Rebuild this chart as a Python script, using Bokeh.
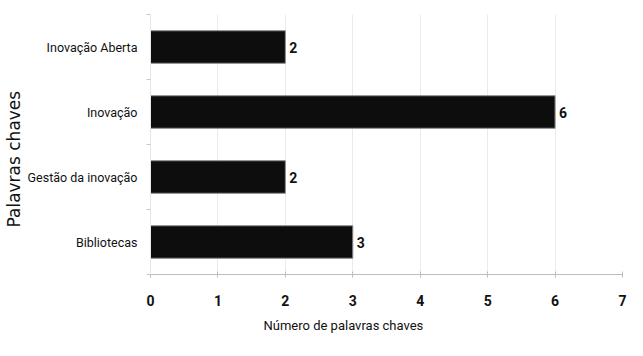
from bokeh.plotting import figure
from bokeh.models import FixedTicker, ColumnDataSource, Title
from bokeh.core.properties import value
from bokeh.embed import file_html
from bokeh.resources import INLINE

categories = ["Bibliotecas", "Gestão da inovação", "Inovação", "Inovação Aberta"]
counts = [3, 2, 6, 2]
x_ticks = [0, 1, 2, 3, 4, 5, 6, 7]
x_title = "Número de palavras chaves"
y_title = "Palavras chaves"

FONT = "Roboto"

positions = list(range(1, len(categories) + 1))
src = ColumnDataSource(dict(y=positions, v=counts, lab=[str(c) for c in counts]))

p = figure(width=627, height=340, output_backend="svg", toolbar_location=None,
           x_range=(0, 7), y_range=(0.5, len(categories) + 0.5),
           min_border_left=148, min_border_right=5, min_border_top=14, min_border_bottom=0)
p.outline_line_color = None

p.hbar(y="y", right="v", left=0, height=0.5, source=src,
       fill_color="#0d0d0d", line_color="#8a8a8a", line_width=1)
p.text(x="v", y="y", text="lab", source=src, x_offset=4,
       text_align="left", text_baseline="middle", text_font=value(FONT),
       text_font_size="14px", text_font_style="bold", text_color="#111111")

# x axis
p.xaxis.ticker = FixedTicker(ticks=x_ticks)
p.xaxis.axis_line_color = "#bdbdbd"
p.xaxis.major_tick_line_color = "#bdbdbd"
p.xaxis.major_tick_in = 3
p.xaxis.major_tick_out = 3
p.xaxis.minor_tick_line_color = None
p.xaxis.major_label_text_font = FONT
p.xaxis.major_label_text_font_size = "14px"
p.xaxis.major_label_text_font_style = "bold"
p.xaxis.major_label_text_color = "#111111"
p.xaxis.major_label_standoff = 17

p.add_layout(Title(text=x_title, align="left", offset=113, text_font=FONT,
                   text_font_size="13px", text_font_style="normal",
                   text_color="#111111", standoff=15), "below")

# y axis
p.yaxis.ticker = FixedTicker(ticks=positions,
                             minor_ticks=[i + 0.5 for i in range(len(categories) + 1)])
p.yaxis.major_label_overrides = {pos: c for pos, c in zip(positions, categories)}
p.yaxis.axis_line_color = "#e6e6e6"
p.yaxis.major_tick_line_color = None
p.yaxis.minor_tick_line_color = "#c8c8c8"
p.yaxis.minor_tick_out = 4
p.yaxis.minor_tick_in = 0
p.yaxis.major_label_text_font = FONT
p.yaxis.major_label_text_font_size = "12.5px"
p.yaxis.major_label_text_color = "#111111"
p.yaxis.major_label_standoff = 7

p.add_layout(Title(text=y_title, align="left", offset=47, text_font="DejaVu Sans",
                   text_font_size="17px", text_font_style="normal",
                   text_color="#111111", standoff=2), "left")

p.xgrid.grid_line_color = "#ebebeb"
p.ygrid.grid_line_color = None

open("out.html", "w").write(file_html(p, INLINE))
